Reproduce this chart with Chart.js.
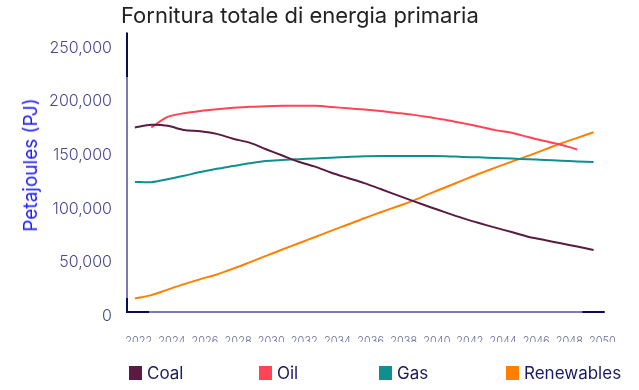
<!DOCTYPE html>
<html lang="it">
<head>
<meta charset="utf-8">
<script src="https://cdn.jsdelivr.net/npm/chart.js@4.4.1/dist/chart.umd.min.js"></script>
<style>
  html, body { margin: 0; padding: 0; background: #fff; }
  #wrap { position: relative; width: 639px; height: 390px; font-family: Inter, "Noto Sans", sans-serif; }
  #chart { position: absolute; left: 0; top: 0; }
  #title { position: absolute; left: 121px; top: 0px; font-size: 22px; line-height: 30px; color: #222; white-space: nowrap; }
  #ytitle { position: absolute; left: 31px; top: 165px; transform: translate(-50%, -50%) rotate(-90deg);
            font-size: 19px; line-height: 22px; color: #2020ff; white-space: nowrap; }
  #legend { position: absolute; left: 129px; top: 362px; display: grid; grid-template-columns: 130px 120px 127px auto; }
  .item { display: flex; align-items: center; font-size: 17px; line-height: 22px; color: #1b1b5e; white-space: nowrap; }
  .box { width: 13px; height: 14px; margin-right: 5px; }
</style>
</head>
<body>
<div id="wrap">
  <canvas id="chart" width="639" height="390"></canvas>
  <div id="title">Fornitura totale di energia primaria</div>
  <div id="ytitle">Petajoules (PJ)</div>
  <div id="legend"></div>
</div>
<script>
// dati (PJ)
const years = [2022, 2023, 2024, 2025, 2026, 2027, 2028, 2029, 2030, 2031, 2032, 2033, 2034, 2035,
               2036, 2037, 2038, 2039, 2040, 2041, 2042, 2043, 2044, 2045, 2046, 2047, 2048, 2049, 2050];
const coal = [172000, 174500, 173500, 169600, 168400, 166000, 161400, 157800, 151700, 145800, 140000, 135500,
              129800, 124900, 120100, 114600, 108900, 103300, 97900, 92600, 87500, 82900, 78600, 74500,
              70200, 67100, 64000, 61000, 57800];
const oil = [null, 172000, 181800, 185200, 187400, 189000, 190300, 191300, 191700, 192100, 192300, 192200,
             191100, 189800, 188600, 187200, 185500, 183700, 181400, 179000, 176000, 172800, 169500, 167100,
             163000, 159300, 155900, 151500, null];
const gas = [121200, 121000, 123700, 126900, 130400, 133400, 136000, 138600, 140800, 141700, 142400, 143100,
             143800, 144500, 145100, 145300, 145300, 145300, 145300, 145200, 144500, 144100, 143500, 143000,
             142300, 141700, 141000, 140300, 139800];
const renewables = [12500, 15700, 20900, 26000, 30600, 35000, 40400, 46300, 52300, 58200, 64100, 69900,
                    75800, 81500, 87400, 92900, 98300, 103800, 110300, 116500, 122600, 128800, 134500, 140100,
                    145500, 151300, 157000, 162300, 167500];
const seriesNames = ['Coal', 'Oil', 'Gas', 'Renewables'];
const seriesColors = ['#5a1a42', '#ff4455', '#0e9090', '#ff8000'];
const xTickLabels = [2022, 2024, 2026, 2028, 2030, 2032, 2034, 2036, 2038, 2040, 2042, 2044, 2046, 2048, 2050];
const yTickValues = [0, 50000, 100000, 150000, 200000, 250000];

const axisColor = '#7b78b2';

// tratti scuri alle estremità degli assi
const axisAccent = {
    id: 'axisAccent',
    afterDraw(chart) {
        const { ctx, chartArea: a } = chart;
        ctx.save();
        ctx.strokeStyle = '#0b0b55';
        ctx.lineWidth = 2;
        ctx.beginPath();
        ctx.moveTo(a.left, a.top); ctx.lineTo(a.left, a.top + 44);
        ctx.moveTo(a.left, a.bottom - 14); ctx.lineTo(a.left, a.bottom); ctx.lineTo(a.left + 22, a.bottom);
        ctx.moveTo(a.right - 22, a.bottom); ctx.lineTo(a.right, a.bottom);
        ctx.stroke();
        ctx.restore();
    }
};

const datasets = [coal, oil, gas, renewables].map((d, i) => ({
    label: seriesNames[i],
    data: d,
    borderColor: seriesColors[i],
    backgroundColor: seriesColors[i],
    borderWidth: 2,
    pointRadius: 0,
    tension: 0.3,
    xAxisID: 'x',
    yAxisID: 'y'
}));

const chart = new Chart(document.getElementById('chart'), {
    type: 'line',
    data: { labels: years, datasets: datasets },
    plugins: [axisAccent],
    options: {
        responsive: false,
        animation: false,
        layout: { padding: { top: 33, right: 25, bottom: 48, left: 0 } },
        plugins: {
            legend: { display: false },
            title: { display: false },
            tooltip: { enabled: false }
        },
        scales: {
            x: { type: 'linear', display: false, min: 2021.52, max: 2050.66 },
            xTicks: {
                type: 'linear',
                position: 'bottom',
                min: 2021.29,
                max: 2050.12,
                grid: { display: false, drawTicks: false },
                border: { color: axisColor, width: 2 },
                afterBuildTicks: s => { s.ticks = xTickLabels.map(v => ({ value: v })); },
                afterFit: s => { s.height = 30; },
                ticks: {
                    autoSkip: false,
                    maxRotation: 0,
                    padding: 23,
                    color: '#6b6a96',
                    font: { family: 'Inter', size: 11, weight: 300 },
                    callback: v => String(v)
                }
            },
            y: {
                type: 'linear',
                min: 0,
                max: 260000,
                grid: { display: false, drawTicks: false },
                border: { color: axisColor, width: 2 },
                afterBuildTicks: s => { s.ticks = yTickValues.map(v => ({ value: v })); },
                afterFit: s => { s.width = 127; },
                ticks: {
                    padding: 15,
                    labelOffset: 4,
                    color: '#4b4a8c',
                    font: { family: 'Inter', size: 16, weight: 300 },
                    callback: v => v.toLocaleString('en-US')
                }
            }
        }
    }
});

// legenda HTML
const legend = document.getElementById('legend');
chart.data.datasets.forEach(ds => {
    const item = document.createElement('div');
    item.className = 'item';
    const box = document.createElement('span');
    box.className = 'box';
    box.style.background = ds.borderColor;
    const txt = document.createElement('span');
    txt.textContent = ds.label;
    item.appendChild(box);
    item.appendChild(txt);
    legend.appendChild(item);
});
</script>
</body>
</html>
